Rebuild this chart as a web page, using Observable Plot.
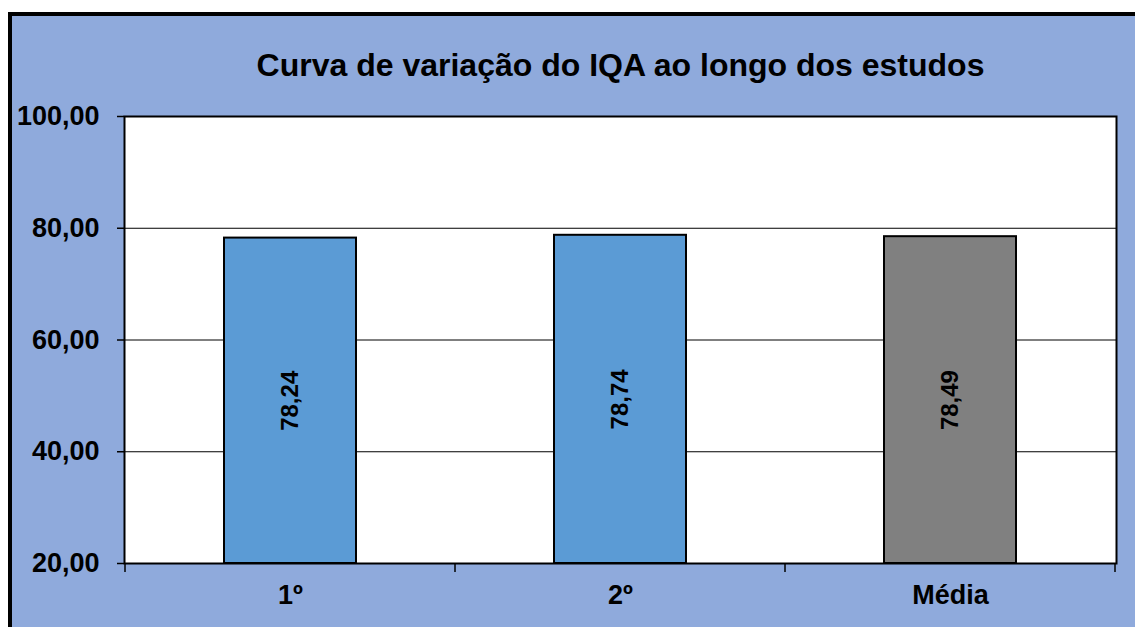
<!DOCTYPE html>
<html>
<head>
<meta charset="utf-8">
<script src="https://cdn.jsdelivr.net/npm/d3@7"></script>
<script src="https://cdn.jsdelivr.net/npm/@observablehq/plot@0.6"></script>
<style>
  html, body { margin: 0; padding: 0; background: #ffffff; width: 1135px; height: 627px; overflow: hidden; }
  #panel { position: absolute; left: 8px; top: 12px; width: 1140px; height: 630px;
           background: #8FAADC; border-left: 4px solid #000; border-top: 4px solid #000; }
  #chart { position: absolute; left: 0; top: 0; }
  #chart svg { background: transparent; }
</style>
</head>
<body>
<div id="panel"></div>
<div id="chart"></div>
<script>
const title = "Curva de variação do IQA ao longo dos estudos";
const categories = ["1º", "2º", "Média"];
const values = [78.24, 78.74, 78.49];
const barColors = ["#5B9BD5", "#5B9BD5", "#808080"];
const yTicks = [20, 40, 60, 80, 100];
const gridTicks = [40, 60, 80];

const data = categories.map((c, i) => ({cat: c, value: values[i], color: barColors[i]}));
const fmt = v => d3.format(".2f")(v).replace(".", ",");
const font = "'Liberation Sans', Arial, sans-serif";

// ticks at boundaries between category bands, drawn with the x scale
function bandBoundaryTicks(index, scales, vals, dimensions) {
  const x = scales.x;
  const bw = typeof x.bandwidth === "function" ? x.bandwidth() : scales.scales.x.bandwidth;
  const step = typeof x.step === "function" ? x.step() : scales.scales.x.step;
  const half = step / 2;
  const edges = [];
  categories.forEach((c, i) => {
    const center = x(c) + bw / 2;
    if (i === 0) edges.push(center - half);
    edges.push(center + half);
  });
  const yb = dimensions.height - dimensions.marginBottom;
  const g = d3.create("svg:g");
  g.selectAll("line").data(edges).join("line")
    .attr("x1", d => d).attr("x2", d => d)
    .attr("y1", yb).attr("y2", yb + 9)
    .attr("stroke", "#000").attr("stroke-width", 1.5);
  return g.node();
}

const plot = Plot.plot({
  width: 1135,
  height: 627,
  marginLeft: 124,
  marginRight: 19,
  marginTop: 116,
  marginBottom: 64,
  style: {background: "transparent", fontFamily: font, overflow: "visible"},
  x: {domain: categories, paddingInner: 0.6, paddingOuter: 0.3, label: null},
  y: {domain: [20, 100], label: null},
  marks: [
    Plot.frame({fill: "#ffffff"}),
    Plot.ruleY(gridTicks, {stroke: "#000", strokeWidth: 1}),
    Plot.barY(data, {x: "cat", y1: 20, y2: "value", fill: "color", stroke: "#000", strokeWidth: 2}),
    Plot.text(data, {
      x: "cat", y: d => (20 + d.value) / 2, text: d => fmt(d.value), rotate: -90,
      fontSize: 24, fontWeight: "bold", fill: "#000"
    }),
    Plot.frame({stroke: "#000", strokeWidth: 2}),
    Plot.axisY(yTicks, {
      tickFormat: fmt, tickSize: 7, tickPadding: 18, fontSize: 27, fontWeight: "bold",
      stroke: "#000", strokeWidth: 1.5, fill: "#000"
    }),
    Plot.axisX({tickSize: 0, tickPadding: 21, fontSize: 27, fontWeight: "bold", fill: "#000"}),
    bandBoundaryTicks,
    Plot.text([title], {
      frameAnchor: "top", dy: -63, text: d => d, fontSize: 32, fontWeight: "bold", fill: "#000"
    })
  ]
});
document.getElementById("chart").appendChild(plot);
</script>
</body>
</html>
